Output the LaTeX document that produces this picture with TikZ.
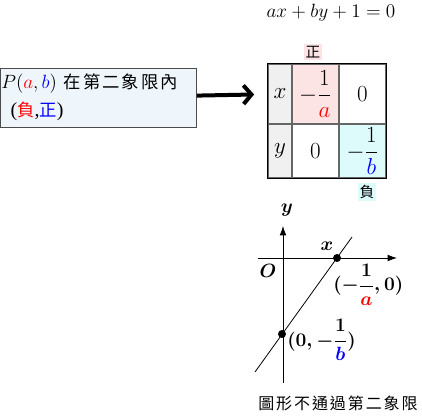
\documentclass[tikz,border=0pt]{standalone}
\usepackage{amsmath,amssymb}
\usepackage{fontspec}
\setmainfont{Liberation Serif}
\newfontfamily\cjk[LetterSpace=12]{Noto Sans CJK TC}
\usetikzlibrary{arrows.meta,positioning}
\definecolor{boxblue}{HTML}{EEF6FC}
\definecolor{cellpink}{HTML}{FCE4E4}
\definecolor{cellcyan}{HTML}{DDFBFB}
\definecolor{cellgray}{HTML}{F0F0F0}

\begin{document}
\begin{tikzpicture}[
  x=0.75pt,y=-0.75pt,
  font=\fontsize{15}{18}\selectfont,
  cell/.style={draw=black!60, line width=0.8pt, inner sep=0pt, minimum width=35.25pt,
    font=\fontsize{17}{20}\selectfont},
  tag/.style={inner sep=1.5pt, font=\cjk\fontsize{11}{12}\selectfont},
  dot/.style={circle, fill=black, inner sep=0pt, minimum size=6pt},
  axis/.style={-{Latex[length=7pt,width=5pt]}, line width=0.6pt},
  glabel/.style={font=\fontsize{14}{16}\selectfont\bfseries\boldmath},
]
  \useasboundingbox (0,0) rectangle (422,417);

  % equation and table
  \node (eq) at (331,13) {$ax+by+1=0$};
  \node[tag, fill=cellpink] (pos) at (313,52) {正};
  \node[cell, fill=cellgray, minimum width=18pt, minimum height=45pt] (hx) at (280,94) {$x$};
  \node[cell, fill=cellpink, minimum height=45pt] (ax) at (315.5,94) {$-\dfrac{1}{\color{red}a}$};
  \node[cell, minimum height=45pt] (bx) at (362.5,94) {$0$};
  \node[cell, fill=cellgray, minimum width=18pt, minimum height=40.5pt] (hy) at (280,151) {$y$};
  \node[cell, minimum height=40.5pt] (ay) at (315.5,151) {$0$};
  \node[cell, fill=cellcyan, minimum height=40.5pt] (by) at (362.5,151) {$-\dfrac{1}{\color{blue}b}$};
  \draw[line width=0.9pt] (hx.north west) rectangle (by.south east);
  \node[tag, fill=cellcyan] (neg) at (367,192) {負};

  % point P
  \node[draw=black!70, fill=boxblue, minimum width=147pt, minimum height=44pt,
        text width=145pt, align=left, inner sep=1pt] (pbox) at (98,97.5)
    {$P({\color{red}a},{\color{blue}b})$ {\cjk\fontsize{13}{16}\selectfont 在第二象限內}\\[3pt]
     \hspace*{7pt}({\cjk\fontsize{13}{16}\selectfont\color{red}負},{\cjk\fontsize{13}{16}\selectfont\color{blue}正})};
  \draw[-{Straight Barb[length=6pt,width=14pt]}, line width=3pt, shorten >=10pt, shorten <=0.5pt] (pbox) -- (hx);

  % graph
  \coordinate (ybot) at (283,383);
  \coordinate (ytop) at (283,226);
  \coordinate (xleft) at (258,258);
  \coordinate (xright) at (397,258);
  \coordinate (lbot) at (255,372);
  \coordinate (ltop) at (352,237);
  \draw[axis] (ybot) -- (ytop);
  \draw[axis] (xleft) -- (xright);
  \draw[line width=0.6pt] (lbot) -- (ltop);
  \node[dot] (xi) at (337,258) {};
  \node[dot] (yi) at (282,334) {};
  \node[glabel] (ylab) at (287,210) {$y$};
  \node[glabel] (xlab) at (327,246) {$x$};
  \node[glabel] (olab) at (268,271) {$O$};
  \node[glabel, anchor=north west, inner sep=0pt] (xilab) at (333,264)
    {$(-\dfrac{1}{\color{red}a},0)$};
  \node[glabel, anchor=west, inner sep=0pt] (yilab) at (287,340)
    {$(0,-\dfrac{1}{\color{blue}b})$};
  \node[font=\cjk\fontsize{12}{14}\selectfont] (note) at (338,403) {圖形不通過第二象限};
\end{tikzpicture}
\end{document}
